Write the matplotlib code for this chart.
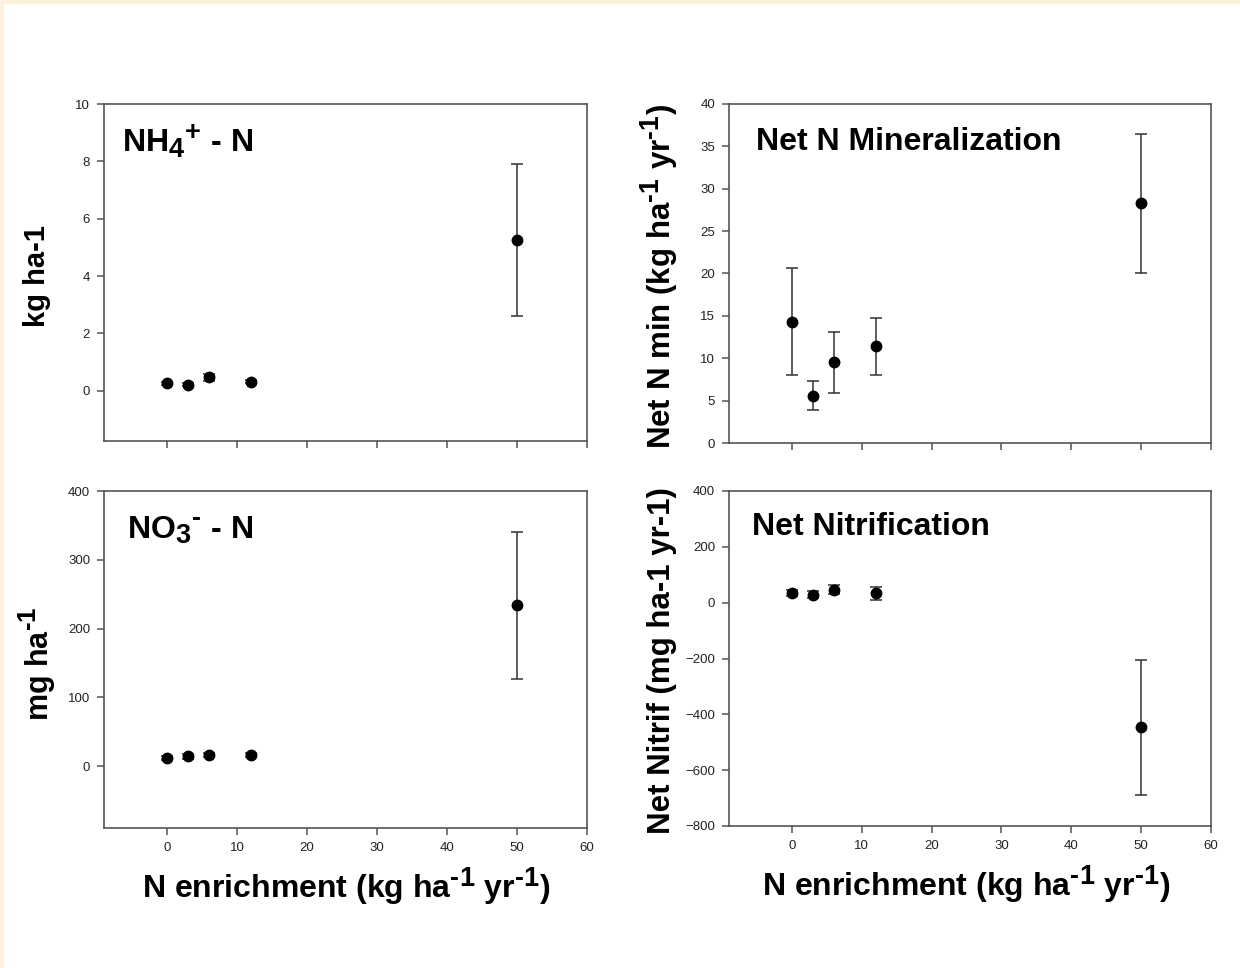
import matplotlib
matplotlib.use("Agg")
import matplotlib.pyplot as plt
import matplotlib._mathtext as _mt
from matplotlib.patches import Rectangle

plt.rcParams["font.family"] = ["Liberation Sans", "DejaVu Sans"]
plt.rcParams["mathtext.fontset"] = "custom"
plt.rcParams["mathtext.rm"] = "Liberation Sans:bold"
plt.rcParams["mathtext.bf"] = "Liberation Sans:bold"
plt.rcParams["mathtext.it"] = "Liberation Sans:bold"
# larger sub/superscripts for the unit exponents
_mt.SHRINK_FACTOR = 0.85

# N enrichment levels (kg ha-1 yr-1)
n_levels = [0, 3, 6, 12, 50]

# Extractable NH4+-N (kg ha-1)
nh4_mean = [0.26, 0.21, 0.47, 0.31, 5.25]
nh4_err = [0.05, 0.05, 0.12, 0.05, 2.65]

# Net N mineralization (kg ha-1 yr-1)
nmin_mean = [14.3, 5.6, 9.5, 11.4, 28.3]
nmin_err = [6.3, 1.7, 3.6, 3.4, 8.2]

# Extractable NO3--N (mg ha-1)
no3_mean = [12, 14, 16, 16.5, 234]
no3_err = [3, 3, 3, 3, 107]

# Net nitrification (mg ha-1 yr-1)
nitr_mean = [35, 29, 47, 33, -447]
nitr_err = [10, 12, 17, 22, 241]

x_ticks = [0, 10, 20, 30, 40, 50, 60]

fig = plt.figure(figsize=(12.4, 9.68), dpi=100)
fig.patch.set_facecolor("#FBF1DE")
fig.add_artist(Rectangle((4 / 1240, 0), 1, 1 - 4 / 968, transform=fig.transFigure,
                         facecolor="white", edgecolor="none", zorder=-1))

spine_col = "#555555"


def panel(rect, means, errs, ylim, yticks, show_xlabels):
    ax = fig.add_axes(rect)
    ax.errorbar(n_levels, means, yerr=errs, fmt="o", color="black", markersize=7.5,
                ecolor="#333333", elinewidth=1.1, capsize=4.5, capthick=1.1, zorder=3)
    ax.set_xlim(-9, 60)
    ax.set_ylim(*ylim)
    ax.set_xticks(x_ticks)
    ax.set_yticks(yticks)
    for s in ax.spines.values():
        s.set_color(spine_col)
        s.set_linewidth(1.2)
    ax.tick_params(direction="out", length=5, width=1.1, color=spine_col,
                   labelsize=9.5, labelcolor="#222222", pad=5)
    if not show_xlabels:
        ax.tick_params(axis="x", labelbottom=False)
    return ax


panel([104 / 1240, 1 - 441 / 968, 483 / 1240, 337 / 968], nh4_mean, nh4_err,
      (-1.75, 10), [0, 2, 4, 6, 8, 10], False)
panel([729 / 1240, 1 - 443 / 968, 482 / 1240, 339 / 968], nmin_mean, nmin_err,
      (0, 40), [0, 5, 10, 15, 20, 25, 30, 35, 40], False)
panel([104 / 1240, 1 - 828 / 968, 483 / 1240, 337 / 968], no3_mean, no3_err,
      (-90, 400), [0, 100, 200, 300, 400], True)
panel([729 / 1240, 1 - 826 / 968, 482 / 1240, 335 / 968], nitr_mean, nitr_err,
      (-800, 400), [-800, -600, -400, -200, 0, 200, 400], True)


def ftext(px, py, s, **kw):
    fig.text(px / 1240, 1 - py / 968, s, **kw)


# Panel titles
title_kw = dict(fontsize=23, fontweight="bold", va="center", ha="left")
ftext(122, 141, r"NH$_{\text{4}}$$^{\text{+}}$ - N", **title_kw)
ftext(756, 142, "Net N Mineralization", **title_kw)
ftext(127, 530, r"NO$_{\text{3}}$$^{\text{-}}$ - N", **title_kw)
ftext(752, 527, "Net Nitrification", **title_kw)

# Axis labels
ftext(37, 276, "kg ha-1", rotation=90, fontsize=21, fontweight="bold",
      ha="center", va="center")
ftext(37, 664, r"mg ha$^{\text{-1}}$", rotation=90, fontsize=22, fontweight="bold",
      ha="center", va="center")
lab_kw = dict(fontsize=22.5, fontweight="bold", ha="center", va="center")
ftext(660, 276, r"Net N min (kg ha$^{\text{-1}}$ yr$^{\text{-1}}$)", rotation=90, **lab_kw)
ftext(662, 661, "Net Nitrif (mg ha-1 yr-1)", rotation=90, **lab_kw)

xl = r"N enrichment (kg ha$^{\text{-1}}$ yr$^{\text{-1}}$)"
ftext(346, 887, xl, fontsize=23, fontweight="bold", ha="center", va="center")
ftext(966, 885, xl, fontsize=23, fontweight="bold", ha="center", va="center")

fig.savefig("out.png", dpi=100, facecolor=fig.get_facecolor())
